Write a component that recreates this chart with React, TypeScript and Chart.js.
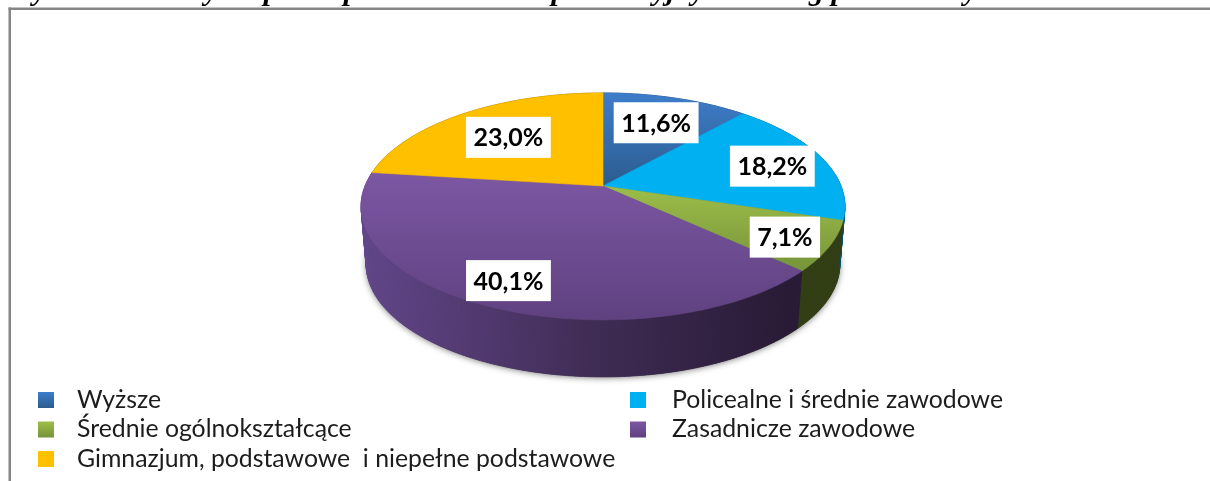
import React, { useEffect, useRef } from "react";
import { Chart, registerables } from "chart.js";

Chart.register(...registerables);

const categories = [
  "Wyższe",
  "Policealne i średnie zawodowe",
  "Średnie ogólnokształcące",
  "Zasadnicze zawodowe",
  "Gimnazjum, podstawowe  i niepełne podstawowe",
];
const shares = [11.6, 18.2, 7.1, 40.1, 23.0];
const shareLabels = ["11,6%", "18,2%", "7,1%", "40,1%", "23,0%"];
const captionLead = "Wykres nr 5.";
const captionRest =
  "Osoby niepełnosprawne w wieku produkcyjnym według poziomu wykształcenia w roku 2011";

const faceLight = ["#3e7dca", "#00b0f0", "#9dbd49", "#7c57a3", "#ffc000"];
const faceDark = ["#2b5c8e", "#00b0f0", "#76943a", "#5f4180", "#ffc000"];
const sideLeft = ["#1f4468", "#005c80", "#3c4a1b", "#62468a", "#8a6800"];
const sideRight = ["#1f4468", "#00516f", "#323e14", "#291a36", "#8a6800"];

const PERSPECTIVE = 0.18;
const CX = 603;
const TOP_DISK = { cy: 186, R: 238, K: 109.8 };
const BOTTOM_DISK = { cy: 244, R: 233, K: 109 };
const LABEL_OFFSETS = [[0, 1], [14, 0], [28, 10], [-15, 16], [6, 4]];

type Disk = { cy: number; R: number; K: number };

function project(theta: number, r: number, d: Disk): [number, number] {
  const u = r * Math.sin(theta);
  const v = -r * Math.cos(theta);
  const w = 1 - PERSPECTIVE * v;
  return [CX + (d.R * u) / w, d.cy + (d.K * v) / w];
}

function arcPoints(a0: number, a1: number, d: Disk) {
  const n = Math.max(8, Math.ceil(((a1 - a0) * 180) / Math.PI));
  const pts: [number, number][] = [];
  for (let i = 0; i <= n; i++) pts.push(project(a0 + ((a1 - a0) * i) / n, 1, d));
  return pts;
}

function tracePoly(ctx: CanvasRenderingContext2D, pts: [number, number][]) {
  ctx.beginPath();
  pts.forEach((p, i) => (i ? ctx.lineTo(p[0], p[1]) : ctx.moveTo(p[0], p[1])));
  ctx.closePath();
}

const pie3d = {
  id: "pie3d",
  beforeDatasetsDraw(chart: any) {
    const ctx: CanvasRenderingContext2D = chart.ctx;
    const arcs = chart.getDatasetMeta(0).data;
    const angles = arcs.map((a: any) => {
      const p = a.getProps(["startAngle", "endAngle"], true);
      return [p.startAngle + Math.PI / 2, p.endAngle + Math.PI / 2];
    });

    // soft shadow under the block
    ctx.save();
    ctx.shadowColor = "rgba(0,0,0,0.5)";
    ctx.shadowBlur = 6;
    ctx.shadowOffsetX = 0;
    ctx.shadowOffsetY = 1;
    ctx.fillStyle = "#333";
    tracePoly(ctx, arcPoints(0, Math.PI * 2, BOTTOM_DISK));
    ctx.fill();
    ctx.restore();

    // walls, as strips between the top and the bottom rim
    angles.forEach(([a0, a1]: number[], i: number) => {
      const g = ctx.createLinearGradient(CX - 240, 0, CX + 185, 0);
      g.addColorStop(0, sideLeft[i]);
      g.addColorStop(0.55, i === 3 ? "#3f2c54" : sideLeft[i]);
      g.addColorStop(1, sideRight[i]);
      ctx.fillStyle = g;
      ctx.strokeStyle = g;
      ctx.lineWidth = 0.7;
      const top = arcPoints(a0, a1, TOP_DISK);
      const bottom = arcPoints(a0, a1, BOTTOM_DISK);
      for (let k = 0; k < top.length - 1; k++) {
        tracePoly(ctx, [top[k], top[k + 1], bottom[k + 1], bottom[k]]);
        ctx.fill();
        ctx.stroke();
      }
    });

    // faces
    angles.forEach(([a0, a1]: number[], i: number) => {
      const pts = arcPoints(a0, a1, TOP_DISK);
      pts.push(project(0, 0, TOP_DISK));
      const ys = pts.map((p) => p[1]);
      const g = ctx.createLinearGradient(0, Math.min(...ys), 0, Math.max(...ys));
      g.addColorStop(0, faceLight[i]);
      g.addColorStop(1, faceDark[i]);
      ctx.fillStyle = g;
      tracePoly(ctx, pts);
      ctx.fill();
      ctx.strokeStyle = g;
      ctx.lineWidth = 0.6;
      ctx.stroke();
    });

    // value labels
    ctx.font = "bold 25px Lato";
    ctx.textAlign = "center";
    ctx.textBaseline = "middle";
    angles.forEach(([a0, a1]: number[], i: number) => {
      const [x0, y0] = project((a0 + a1) / 2, 0.7, TOP_DISK);
      const x = x0 + LABEL_OFFSETS[i][0];
      const y = y0 + LABEL_OFFSETS[i][1];
      const w = ctx.measureText(shareLabels[i]).width + 15;
      ctx.fillStyle = "#ffffff";
      ctx.fillRect(x - w / 2, y - 20.5, w, 41);
      ctx.fillStyle = "#000000";
      ctx.fillText(shareLabels[i], x, y + 1);
    });
    return false;
  },
  afterDraw(chart: any) {
    const ctx: CanvasRenderingContext2D = chart.ctx;
    ctx.save();
    // caption cut off by the top of the picture
    ctx.font = "italic bold 30px 'Liberation Serif'";
    ctx.textAlign = "left";
    ctx.textBaseline = "alphabetic";
    ctx.fillStyle = "#000";
    ctx.fillText(captionLead, 8, 0);
    ctx.fillText(captionRest, 8 + ctx.measureText(captionLead + " ").width - 30, 0);

    // frame
    ctx.fillStyle = "#868686";
    ctx.fillRect(8.5, 7.5, 1210, 2.5);
    ctx.fillRect(8.5, 7.5, 2.5, 481);

    // legend
    const rows = [[0, 0], [1, 0], [0, 1], [1, 1], [0, 2]];
    ctx.font = "24.8px Lato";
    ctx.textBaseline = "middle";
    categories.forEach((label, i) => {
      const [col, row] = rows[i];
      const y = 400 + row * 29.5;
      const sx = col ? 630 : 38;
      const tx = col ? 672 : 77;
      const g = ctx.createLinearGradient(0, y - 8, 0, y + 8);
      g.addColorStop(0, faceLight[i]);
      g.addColorStop(1, faceDark[i]);
      ctx.fillStyle = g;
      ctx.fillRect(sx, y - 8, 16, 16);
      ctx.fillStyle = "#1c1c1c";
      ctx.fillText(label, tx, y);
    });
    ctx.restore();
  },
};

export default function App() {
  const ref = useRef<HTMLCanvasElement>(null);
  useEffect(() => {
    document.body.style.margin = "0";
    const chart = new Chart(ref.current!, {
      type: "pie",
      data: {
        labels: categories,
        datasets: [{ data: shares, backgroundColor: faceLight, borderWidth: 0 }],
      },
      options: {
        responsive: false,
        animation: false,
        plugins: { legend: { display: false }, tooltip: { enabled: false } },
      },
      plugins: [pie3d],
    } as any);
    return () => chart.destroy();
  }, []);
  return <canvas ref={ref} width={1210} height={481} style={{ display: "block", background: "#fff" }} />;
}
